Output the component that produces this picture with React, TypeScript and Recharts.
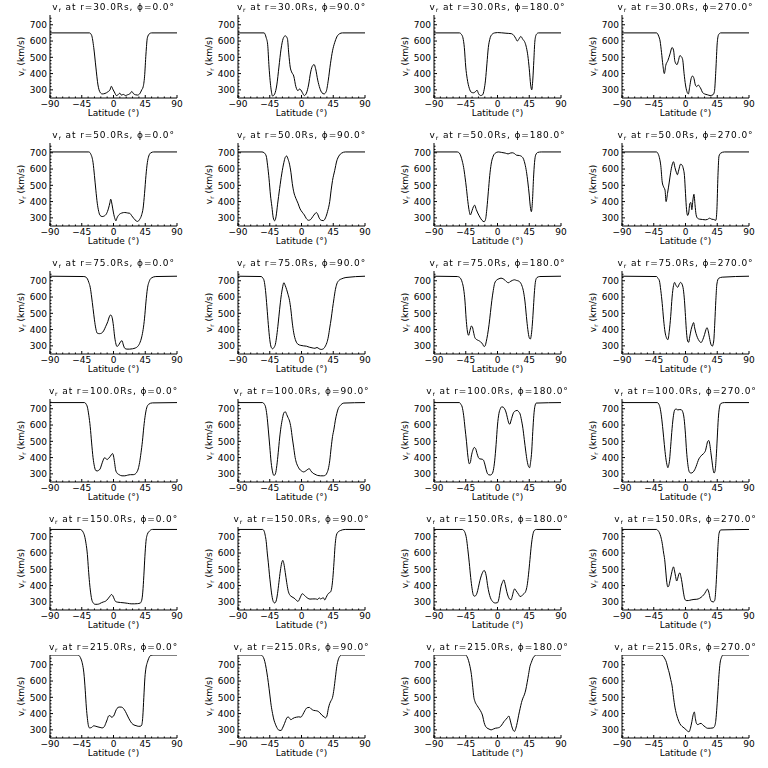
import React from 'react';
import { LineChart, Line, XAxis, YAxis } from 'recharts';

// radial speed v_r (km/s) against latitude (deg), one array per panel
const r30p0 = [[-90,650],[-34,650],[-31,635],[-28,560],[-25,440],[-22,330],[-19,285],[-16,275],[-12,278],[-8,288],[-5,300],[-3,322],[-1,305],[2,280],[4,265],[7,272],[9,280],[11,268],[14,272],[17,265],[20,270],[23,275],[26,290],[28,278],[31,270],[34,268],[37,275],[40,300],[42,318],[44,380],[46,520],[48,620],[51,645],[54,650],[90,650]];
const r30p90 = [[-90,650],[-53,650],[-50,620],[-48,580],[-46,440],[-43,300],[-41,262],[-38,275],[-35,330],[-32,440],[-29,550],[-26,615],[-23,632],[-20,615],[-18,520],[-16,440],[-14,410],[-11,385],[-8,320],[-5,295],[-3,305],[-1,300],[1,285],[4,265],[7,280],[10,330],[13,410],[16,450],[18,455],[20,430],[23,360],[26,310],[29,282],[32,275],[35,290],[38,360],[41,460],[44,540],[47,590],[50,625],[54,645],[58,650],[90,650]];
const r30p180 = [[-90,650],[-54,650],[-51,640],[-49,620],[-47,560],[-45,440],[-43,370],[-40,310],[-37,285],[-34,282],[-31,290],[-29,298],[-27,278],[-24,265],[-21,270],[-19,300],[-17,360],[-15,460],[-13,560],[-11,610],[-8,640],[-4,650],[0,652],[12,648],[20,645],[23,635],[26,615],[28,600],[30,610],[33,628],[36,610],[39,590],[41,560],[43,510],[45,430],[47,330],[48.5,300],[50,360],[51.5,480],[53,600],[55,640],[58,650],[90,650]];
const r30p270 = [[-90,650],[-41,650],[-38,630],[-36,600],[-34,530],[-32,450],[-30,400],[-28,450],[-25,480],[-22,520],[-19,560],[-17,545],[-15,475],[-12,455],[-10,480],[-8,510],[-6,505],[-4,485],[-2,400],[0,330],[2,290],[4,275],[6,320],[8,370],[10,385],[12,370],[14,330],[16,320],[18,330],[20,320],[22,305],[24,285],[27,275],[31,270],[35,265],[39,270],[41,290],[43,420],[45,590],[47,640],[50,650],[90,650]];

const r50p0 = [[-90,705],[-35,705],[-32,690],[-29,640],[-27,560],[-25,470],[-23,390],[-21,340],[-19,315],[-16,308],[-13,312],[-10,325],[-7,360],[-5,395],[-4,415],[-2,380],[0,330],[2,295],[3.5,282],[5,300],[8,320],[12,330],[16,333],[20,330],[23,328],[26,312],[29,295],[32,282],[34,278],[37,290],[40,320],[42,360],[44,450],[46,560],[48,640],[50,680],[53,700],[57,705],[90,705]];
const r50p90 = [[-90,705],[-56,705],[-53,700],[-50,680],[-48,620],[-46,540],[-44,440],[-42,370],[-40,300],[-38,282],[-36,310],[-34,380],[-31,480],[-28,570],[-25,640],[-23,672],[-21,680],[-19,660],[-17,630],[-15,580],[-13,510],[-11,460],[-8,420],[-5,390],[-2,355],[1,335],[4,318],[7,295],[10,285],[13,290],[16,308],[19,325],[21,333],[23,322],[25,300],[28,285],[31,283],[34,300],[37,340],[40,400],[42,470],[44,530],[47,590],[50,650],[53,680],[57,698],[62,705],[90,705]];
const r50p180 = [[-90,705],[-57,705],[-54,698],[-52,680],[-50,650],[-48,610],[-46,550],[-44,480],[-42,400],[-40,340],[-38.5,318],[-36,345],[-34,370],[-32.5,378],[-30,350],[-28,330],[-25,305],[-22,285],[-19,276],[-17,290],[-15,360],[-13,460],[-11,560],[-9,630],[-6,680],[-3,698],[1,705],[6,702],[11,698],[15,693],[18,698],[21,700],[24,695],[27,685],[31,683],[34,678],[37,660],[39,630],[41,585],[43,520],[45,440],[46.5,370],[48,338],[49.5,400],[51,540],[52.5,640],[54,685],[57,702],[62,705],[90,705]];
const r50p270 = [[-90,705],[-41,705],[-39,695],[-37,670],[-35,620],[-33,520],[-31,490],[-29,470],[-27.5,400],[-25.5,450],[-23,520],[-21,580],[-19,625],[-17,645],[-15,610],[-13,580],[-11.5,565],[-9.5,595],[-7,630],[-5,625],[-3,600],[-1.5,560],[0,450],[1.5,350],[3,315],[4.5,330],[6,385],[7.5,395],[9,350],[10.5,410],[12,445],[13.5,380],[15,320],[17,298],[20,292],[24,290],[28,288],[31,290],[34,298],[37,292],[40,290],[43,285],[44.5,350],[46,560],[47.5,680],[50,698],[55,705],[90,705]];

const r75p0 = [[-90,728],[-42,726],[-39,722],[-37,712],[-35,690],[-33,660],[-31,600],[-29,530],[-27,460],[-25,405],[-23,378],[-20,375],[-17,378],[-14,392],[-11,420],[-8,450],[-6,478],[-4,490],[-2,475],[0,420],[1.5,360],[3,320],[5,296],[8,310],[10,325],[12,332],[14,305],[16,285],[19,280],[23,280],[27,282],[31,287],[34,295],[37,315],[40,355],[42,400],[44,470],[46,570],[48,650],[51,700],[54,718],[60,726],[90,728]];
const r75p90 = [[-90,728],[-57,726],[-55,718],[-53,700],[-51,640],[-49,540],[-47,430],[-45,340],[-43,292],[-41,282],[-39,290],[-37,310],[-35,365],[-33,440],[-31,525],[-29,600],[-27,655],[-25,688],[-23,670],[-21,645],[-19,615],[-17,580],[-15,520],[-13,440],[-11,380],[-8,330],[-5,310],[-1,303],[3,300],[7,298],[11,292],[15,288],[19,285],[22,290],[25,282],[28,278],[31,282],[34,300],[36,320],[38,355],[40,410],[42,465],[44,530],[46,590],[48,645],[50,680],[53,702],[57,712],[63,720],[90,728]];
const r75p180 = [[-90,728],[-57,726],[-54,722],[-52,712],[-50,690],[-48,650],[-46,570],[-44.5,470],[-43,400],[-41,365],[-39,395],[-37,422],[-35.5,415],[-34,385],[-32,350],[-30,340],[-27,333],[-24,325],[-21,310],[-19,296],[-17.5,300],[-16,325],[-14,370],[-12,430],[-10,505],[-8,580],[-6,640],[-4,685],[-1,705],[2,712],[5,716],[8,712],[11,702],[14,690],[16,688],[18,695],[21,702],[24,706],[27,702],[30,698],[33,685],[35,665],[37,630],[39,570],[41,480],[43,400],[45,350],[46.5,342],[48,370],[49.5,440],[51,540],[52.5,640],[54,700],[56,720],[60,726],[90,728]];
const r75p270 = [[-90,728],[-41,726],[-39,715],[-37,700],[-35,640],[-33,560],[-31,460],[-29,385],[-27,350],[-25,338],[-23,390],[-21,480],[-19,600],[-17,670],[-15.5,690],[-13.5,672],[-11,660],[-9,678],[-7,690],[-5,680],[-3,645],[-1.5,580],[0,480],[1.5,380],[3,330],[4.5,322],[6,355],[8,400],[10,430],[11.5,443],[13,410],[15,375],[17,350],[19.5,330],[22,320],[24.5,338],[27,370],[29,400],[30.5,412],[32,395],[34,350],[36,310],[38,298],[40,330],[41.5,440],[43,580],[44.5,680],[47,715],[52,722],[90,728]];

const r100p0 = [[-90,738],[-41,738],[-39,730],[-37,710],[-35,660],[-33,590],[-31,490],[-29,400],[-27,345],[-25,320],[-23,318],[-21,322],[-19,330],[-17,355],[-15,380],[-13,398],[-11,395],[-9,388],[-7,395],[-5,405],[-3,418],[-1.5,425],[0,410],[1.5,370],[3,325],[5,305],[8,295],[12,288],[16,288],[20,292],[24,295],[28,295],[31,300],[33,310],[35,330],[37,370],[39,430],[41,500],[43,590],[45,660],[47,705],[50,728],[55,736],[90,738]];
const r100p90 = [[-90,738],[-55,738],[-53,730],[-51,712],[-49,660],[-47,570],[-45,470],[-43,370],[-41,312],[-39,290],[-37,300],[-35,350],[-33,430],[-31,520],[-29,590],[-27,640],[-25,675],[-23,682],[-21,665],[-19,645],[-17,625],[-15,585],[-13,520],[-11,460],[-9,400],[-7,365],[-5,345],[-3,330],[0,318],[3,312],[6,318],[9,328],[11,332],[13,320],[16,305],[19,298],[23,290],[27,288],[31,288],[34,292],[36,305],[38,330],[40,380],[42,460],[44,530],[46,575],[48,630],[50,670],[52,700],[55,720],[60,735],[90,738]];
const r100p180 = [[-90,738],[-54,738],[-52,728],[-50,710],[-48,660],[-46,580],[-44,500],[-42,410],[-40,362],[-38.5,370],[-37,410],[-35,445],[-33,462],[-31,455],[-29,425],[-27,400],[-25,392],[-22,390],[-20,385],[-18,360],[-16,325],[-14,300],[-12,294],[-10,293],[-8,298],[-6,320],[-4,380],[-2,480],[0,600],[2,670],[4,700],[6,712],[8,710],[10,700],[12,680],[14,645],[16,612],[17.5,605],[19,625],[21,655],[23,678],[26,688],[28,690],[30,682],[32,668],[34,630],[36,580],[38,510],[40,440],[42,380],[44,345],[45.5,338],[47,375],[48.5,440],[50,560],[51.5,660],[53,715],[55,735],[90,738]];
const r100p270 = [[-90,738],[-40,738],[-38,730],[-36,705],[-34,650],[-32,570],[-30,480],[-28,400],[-26,350],[-25,338],[-24,350],[-22.5,390],[-21,470],[-19,580],[-17,660],[-15,695],[-13,698],[-11,693],[-8,695],[-6,694],[-4,682],[-2,640],[0,540],[1.5,440],[3,370],[4.5,325],[6,308],[8,305],[10.5,310],[13,325],[15,345],[17,370],[19,392],[21,405],[23,415],[25,422],[27,432],[28.5,445],[30,475],[31.5,500],[33,505],[34.5,480],[36,430],[37.5,380],[39,330],[40.5,305],[42,320],[43.5,400],[45,520],[46.5,640],[48,705],[50,732],[55,738],[90,738]];

const r150p0 = [[-90,745],[-47,745],[-45,740],[-43,728],[-41,705],[-39,660],[-37,590],[-35.5,500],[-34,420],[-32.5,360],[-31,318],[-29,295],[-26,285],[-23,285],[-20,288],[-17,295],[-14,300],[-11,305],[-8,318],[-5,335],[-3,345],[-1,338],[1,318],[3,302],[6,298],[10,296],[15,294],[20,291],[25,288],[30,288],[34,289],[38,293],[40,310],[41.5,360],[43,460],[44.5,580],[46,670],[48,715],[51,735],[55,745],[90,745]];
const r150p90 = [[-90,745],[-55,745],[-53,735],[-51.5,710],[-50,670],[-48.5,600],[-47,540],[-45.5,470],[-44,410],[-42,340],[-40,302],[-38,293],[-36,305],[-34,350],[-32,420],[-30,490],[-28,540],[-26.5,555],[-25,535],[-23,480],[-21,420],[-19,370],[-17,345],[-15,335],[-12,327],[-9,318],[-7,308],[-5,303],[-3,315],[-1,335],[1,350],[3,345],[6,332],[9,322],[12,317],[16,318],[20,318],[23,315],[25,325],[27,318],[29,322],[31,325],[33,312],[35,328],[37,345],[39,355],[41,360],[43,390],[44.5,450],[46,540],[47.5,640],[49,700],[51,725],[55,738],[62,745],[90,745]];
const r150p180 = [[-90,745],[-50,745],[-48,740],[-46,725],[-44,690],[-42,620],[-40,540],[-38,450],[-36,380],[-34.5,345],[-33,335],[-31,338],[-29,355],[-27,390],[-25,430],[-23,460],[-21,482],[-19,493],[-17.5,485],[-16,460],[-14,400],[-12,355],[-10,325],[-8,308],[-6,298],[-3,293],[0,295],[2,320],[3.5,360],[5,395],[7,420],[9,435],[11,405],[13,365],[15,335],[17,318],[19,312],[21,335],[23,370],[24.5,380],[26,370],[28,358],[30,345],[32,333],[34,335],[36,345],[38,352],[40,365],[42,400],[44,470],[46,560],[48,650],[50,710],[52,738],[55,745],[90,745]];
const r150p270 = [[-90,745],[-41,745],[-39,738],[-37,725],[-35,700],[-33,660],[-31,600],[-29.5,560],[-28,490],[-26.5,420],[-25,392],[-23.5,400],[-22,430],[-20,470],[-18.5,500],[-17,515],[-15.5,490],[-14,455],[-12.5,428],[-11,445],[-9.5,470],[-8,478],[-6.5,455],[-5,420],[-3,360],[-1,318],[1,308],[4,308],[8,312],[12,315],[16,316],[20,322],[24,335],[27,350],[29,365],[31,378],[33,360],[35,320],[37,302],[39.5,300],[41.5,310],[43,380],[44.5,500],[46,640],[47.5,720],[50,742],[90,745]];

const r215p0 = [[-90,760],[-50,760],[-48,752],[-46,735],[-44,705],[-42,650],[-40,540],[-38.5,440],[-37,370],[-35.5,325],[-34,312],[-31,315],[-28,325],[-25,322],[-22,318],[-19,315],[-16,312],[-13,320],[-11,340],[-9,362],[-7,385],[-5,388],[-3,378],[-1,380],[1,392],[3,415],[5,432],[8,440],[11,440],[14,432],[17,412],[20,385],[23,360],[26,340],[29,330],[32,326],[35,322],[38,322],[40,330],[41.5,380],[43,500],[44.5,620],[46,680],[48,715],[50,740],[53,758],[56,760],[90,760]];
const r215p90 = [[-90,760],[-57,760],[-55,752],[-53,735],[-51,700],[-49,650],[-47,590],[-45,520],[-43,450],[-41,400],[-39,360],[-37,335],[-35,315],[-32,298],[-29,296],[-27,310],[-24,340],[-21,372],[-19,380],[-17,372],[-15,362],[-13,368],[-10,375],[-7,378],[-4,380],[-1,378],[2,395],[5,420],[8,436],[11,438],[14,428],[17,420],[20,418],[23,415],[26,405],[29,390],[32,380],[34,374],[36,385],[38,430],[40,462],[42,480],[44,500],[46,550],[48,620],[50,690],[52,730],[54,750],[57,760],[90,760]];
const r215p180 = [[-90,760],[-45,760],[-43,748],[-41,725],[-39,690],[-37,640],[-35,560],[-33.5,500],[-32,475],[-29,450],[-26,430],[-23,408],[-21,385],[-19,345],[-17,322],[-15,312],[-12,305],[-9,300],[-6,305],[-3,310],[0,312],[3,316],[6,330],[9,350],[12,365],[14,375],[16,385],[18,360],[20,325],[22,300],[24,290],[26,310],[28,345],[30,390],[32,430],[34,468],[36,495],[38,515],[40,545],[42,590],[44,640],[46,690],[48,715],[50,738],[52,752],[55,760],[90,760]];
const r215p270 = [[-90,760],[-35,760],[-32,755],[-29,735],[-27,715],[-25,680],[-23,650],[-21,610],[-19,570],[-17,500],[-15,440],[-13,400],[-11,370],[-8,338],[-5,322],[-2,312],[1,300],[3,292],[5,288],[7,310],[9,350],[11,395],[12.5,410],[14,370],[15.5,340],[17.5,332],[20,338],[22,340],[25,328],[28,318],[31,310],[35,310],[39,312],[41,320],[43,360],[44.5,440],[46,540],[47.5,640],[49,710],[51,745],[53,760],[90,760]];

const radii = ['30.0', '50.0', '75.0', '100.0', '150.0', '215.0'];
const phis = ['0.0', '90.0', '180.0', '270.0'];
const panels = [
  [r30p0, r30p90, r30p180, r30p270],
  [r50p0, r50p90, r50p180, r50p270],
  [r75p0, r75p90, r75p180, r75p270],
  [r100p0, r100p90, r100p180, r100p270],
  [r150p0, r150p90, r150p180, r150p270],
  [r215p0, r215p90, r215p180, r215p270],
];

const xMajor = [-90, -45, 0, 45, 90];
const xTicks = [-90, -81, -72, -63, -54, -45, -36, -27, -18, -9, 0, 9, 18, 27, 36, 45, 54, 63, 72, 81, 90];
const yMajor = [300, 400, 500, 600, 700];
const yTicks = [260, 280, 300, 320, 340, 360, 380, 400, 420, 440, 460, 480, 500, 520, 540, 560, 580, 600, 620, 640, 660, 680, 700, 720, 740];

const colLeft = [50, 238, 434, 622];
const rowTop = [15, 143, 271, 399, 527, 655];
const PW = 127;
const PH = 83;
const AXW = 45;
const AXH = 25;
const MT = 2;
const MR = 12;
const FONT = '"DejaVu Sans"';

const fmt = (v: number) => (v < 0 ? '\u2212' + Math.abs(v) : String(v));

const BottomTick = (p: any) => {
  const v = p.payload.value;
  const major = xMajor.includes(v);
  return (
    <g>
      <line x1={p.x} x2={p.x} y1={p.y} y2={p.y - (major ? 3 : 1.5)} stroke="#000" />
      {major && (
        <text x={p.x} y={p.y + 9} textAnchor="middle" fontSize={9} fontFamily={FONT} fill="#000">
          {fmt(v)}
        </text>
      )}
    </g>
  );
};

const TopTick = (p: any) => {
  const major = xMajor.includes(p.payload.value);
  return <line x1={p.x} x2={p.x} y1={p.y} y2={p.y + (major ? 3 : 1.5)} stroke="#000" />;
};

const LeftTick = (p: any) => {
  const v = p.payload.value;
  const major = yMajor.includes(v);
  return (
    <g>
      <line x1={p.x} x2={p.x + (major ? 3 : 1.5)} y1={p.y} y2={p.y} stroke="#000" />
      {major && (
        <text x={p.x - 3} y={p.y + 3.3} textAnchor="end" fontSize={9} fontFamily={FONT} fill="#000">
          {v}
        </text>
      )}
    </g>
  );
};

const RightTick = (p: any) => {
  const major = yMajor.includes(p.payload.value);
  return <line x1={p.x} x2={p.x - (major ? 3 : 1.5)} y1={p.y} y2={p.y} stroke="#000" />;
};

const yLabel = (props: any) => {
  const vb = props.viewBox;
  const cx = vb.x + vb.width - 26;
  const cy = vb.y + vb.height / 2;
  return (
    <text transform={`translate(${cx},${cy}) rotate(-90)`} textAnchor="middle" fontSize={9} fontFamily={FONT} fill="#000">
      v<tspan fontSize={6} dy={2}>r</tspan>
      <tspan dy={-2}> (km/s)</tspan>
    </text>
  );
};

const xLabel = (props: any) => {
  const vb = props.viewBox;
  return (
    <text x={vb.x + vb.width / 2} y={vb.y + 18} textAnchor="middle" fontSize={9} fontFamily={FONT} fill="#000">
      Latitude (°)
    </text>
  );
};

function Title({ r, phi, left, top }: { r: string; phi: string; left: number; top: number }) {
  return (
    <svg
      width={PW + 60}
      height={14}
      style={{ position: 'absolute', left: left - 30, top: top - 14, overflow: 'visible', filter: 'grayscale(1)' }}
    >
      <text
        x={(PW + 60) / 2}
        y={9}
        textAnchor="middle"
        fontSize={9}
        fontFamily={FONT}
        letterSpacing={0.9}
        fill="#000"
      >
        v<tspan fontSize={6} dy={2}>r</tspan>
        <tspan dy={-2}>{` at r=${r}Rs, \u03D5=${phi}\u00B0`}</tspan>
      </text>
    </svg>
  );
}

function Panel({ pts, row, col }: { pts: number[][]; row: number; col: number }) {
  const data = pts.map(([lat, v]) => ({ lat, v }));
  const left = colLeft[col];
  const top = rowTop[row];
  return (
    <>
      <Title r={radii[row]} phi={phis[col]} left={left} top={top} />
      <div style={{ position: 'absolute', left: left - AXW, top: top - MT }}>
        <LineChart width={AXW + PW + MR} height={MT + PH + AXH} data={data} margin={{ top: MT, right: MR, left: 0, bottom: 0 }}>
          <XAxis
            xAxisId="b"
            dataKey="lat"
            type="number"
            domain={[-90, 90]}
            ticks={xTicks}
            interval={0}
            tickSize={0}
            tickMargin={0}
            tickLine={false}
            tick={BottomTick}
            height={AXH}
            axisLine={{ stroke: '#000' }}
            allowDataOverflow
            label={xLabel}
          />
          <XAxis
            xAxisId="t"
            orientation="top"
            type="number"
            domain={[-90, 90]}
            ticks={xTicks}
            interval={0}
            tickSize={0}
            tickMargin={0}
            tickLine={false}
            tick={TopTick}
            height={0}
            axisLine={{ stroke: '#000' }}
            allowDataOverflow
          />
          <YAxis
            yAxisId="l"
            type="number"
            domain={[250, 760]}
            ticks={yTicks}
            interval={0}
            tickSize={0}
            tickMargin={0}
            tickLine={false}
            tick={LeftTick}
            width={AXW}
            axisLine={{ stroke: '#000' }}
            allowDataOverflow
            label={yLabel}
          />
          <YAxis
            yAxisId="r"
            orientation="right"
            type="number"
            domain={[250, 760]}
            ticks={yTicks}
            interval={0}
            tickSize={0}
            tickMargin={0}
            tickLine={false}
            tick={RightTick}
            width={0}
            axisLine={{ stroke: '#000' }}
            allowDataOverflow
          />
          <Line
            xAxisId="b"
            yAxisId="l"
            dataKey="v"
            type="monotone"
            stroke="#000"
            strokeWidth={1}
            dot={false}
            isAnimationActive={false}
          />
        </LineChart>
      </div>
    </>
  );
}

export default function App() {
  return (
    <div style={{ position: 'absolute', left: 0, top: 0, width: 768, height: 768, background: '#fff' }}>
      {panels.map((rowPanels, i) =>
        rowPanels.map((pts, j) => <Panel key={`${i}-${j}`} pts={pts} row={i} col={j} />)
      )}
    </div>
  );
}
